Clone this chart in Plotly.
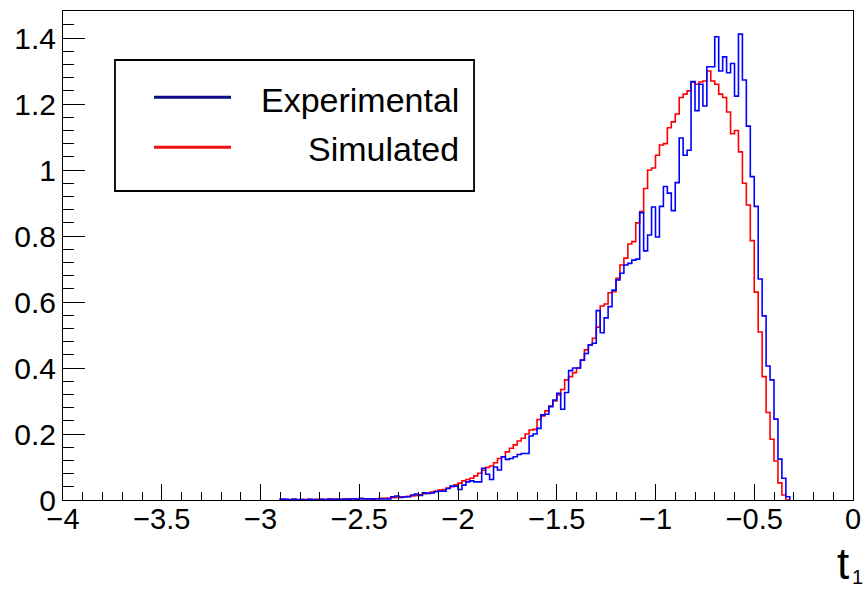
import numpy as np
import plotly.graph_objects as go

# ---- data: normalised histograms of t1, 0.02-wide bins starting at the low edges below ----
bin_width = 0.02
bin_low_edges = np.round(np.arange(-2.90, -0.335, bin_width), 2)  # -2.90 ... -0.34

experimental = [
    0.003, 0.002, 0.000, 0.003, 0.000,
    0.001, 0.000, 0.002, 0.001, 0.000,
    0.002, 0.000, 0.003, 0.002, 0.002,
    0.001, 0.003, 0.002, 0.004, 0.002,
    0.005, 0.003, 0.004, 0.002, 0.004,
    0.003, 0.004, 0.003, 0.010, 0.012,
    0.008, 0.009, 0.010, 0.015, 0.018,
    0.014, 0.022, 0.020, 0.021, 0.025,
    0.027, 0.027, 0.035, 0.042, 0.042,
    0.032, 0.045, 0.055, 0.058, 0.055,
    0.055, 0.096, 0.078, 0.062, 0.100,
    0.091, 0.131, 0.123, 0.126, 0.131,
    0.138, 0.141, 0.141, 0.194, 0.200,
    0.217, 0.258, 0.260, 0.283, 0.303,
    0.323, 0.275, 0.326, 0.392, 0.400,
    0.400, 0.424, 0.444, 0.470, 0.475,
    0.574, 0.507, 0.552, 0.586, 0.636,
    0.667, 0.687, 0.712, 0.717, 0.727,
    0.730, 0.871, 0.755, 0.803, 0.888,
    0.797, 0.890, 0.950, 0.930, 0.877,
    0.962, 1.097, 1.045, 1.060, 1.268,
    1.180, 1.260, 1.194, 1.313, 1.313,
    1.404, 1.300, 1.343, 1.295, 1.323,
    1.224, 1.412, 1.273, 1.133, 0.980,
    0.890, 0.670, 0.558, 0.406, 0.364,
    0.245, 0.124, 0.066, 0.010,
]

simulated = [
    0.001, 0.001, 0.001, 0.001, 0.001,
    0.001, 0.001, 0.002, 0.001, 0.002,
    0.002, 0.002, 0.002, 0.002, 0.003,
    0.002, 0.003, 0.003, 0.003, 0.003,
    0.003, 0.004, 0.003, 0.004, 0.004,
    0.005, 0.005, 0.006, 0.007, 0.008,
    0.009, 0.010, 0.011, 0.012, 0.014,
    0.016, 0.019, 0.021, 0.024, 0.027,
    0.030, 0.032, 0.036, 0.040, 0.046,
    0.051, 0.058, 0.062, 0.066, 0.073,
    0.081, 0.090, 0.099, 0.103, 0.113,
    0.126, 0.131, 0.146, 0.157, 0.167,
    0.179, 0.187, 0.200, 0.212, 0.214,
    0.244, 0.255, 0.270, 0.285, 0.300,
    0.318, 0.335, 0.364, 0.374, 0.386,
    0.400, 0.424, 0.455, 0.470, 0.490,
    0.524, 0.588, 0.594, 0.628, 0.631,
    0.672, 0.712, 0.733, 0.776, 0.783,
    0.840, 0.874, 0.944, 1.000, 1.006,
    1.045, 1.076, 1.080, 1.128, 1.146,
    1.170, 1.220, 1.230, 1.240, 1.267,
    1.260, 1.267, 1.270, 1.300, 1.270,
    1.260, 1.230, 1.220, 1.176, 1.110,
    1.120, 1.055, 0.960, 0.894, 0.786,
    0.630, 0.509, 0.374, 0.265, 0.184,
    0.118, 0.052, 0.015, 0.000,
]

series_names = ["Experimental", "Simulated"]
x_tick_values = [-4, -3.5, -3, -2.5, -2, -1.5, -1, -0.5, 0]
y_tick_values = [0, 0.2, 0.4, 0.6, 0.8, 1.0, 1.2, 1.4]

FONT = "Liberation Sans, Arial, Helvetica, sans-serif"
HIST_BLUE = "#0000ff"
HIST_RED = "#ff0000"
LEG_BLUE = "#0b0b88"
LEG_RED = "#f01010"


def step_outline(low_edges, values, width):
    xs = [low_edges[0]] + list(low_edges) + [low_edges[-1] + width]
    ys = [0.0] + list(values) + [0.0]
    return xs, ys


fig = go.Figure()
for name, vals, col in [("Simulated", simulated, HIST_RED), ("Experimental", experimental, HIST_BLUE)]:
    xs, ys = step_outline(bin_low_edges, vals, bin_width)
    fig.add_trace(go.Scatter(x=xs, y=ys, mode="lines", name=name,
                             line=dict(color=col, width=1.6, shape="hv"),
                             showlegend=False, hoverinfo="skip"))

fig.update_layout(
    width=865, height=590, autosize=False,
    margin=dict(l=63, r=12, t=11, b=90, pad=0, autoexpand=False),
    paper_bgcolor="white", plot_bgcolor="white",
    font=dict(family=FONT, color="black"),
    xaxis=dict(range=[-4, 0], tickvals=x_tick_values, ticks="inside", ticklen=16,
               tickwidth=1, tickcolor="black", showline=True, linecolor="black",
               linewidth=1, mirror=True, showgrid=False, zeroline=False,
               automargin=False, ticklabelstandoff=-7,
               tickfont=dict(size=29, family=FONT),
               minor=dict(dtick=0.1, tick0=-4, ticks="inside", ticklen=8,
                          tickwidth=1, tickcolor="black", showgrid=False)),
    yaxis=dict(range=[0, 1.482], tickvals=y_tick_values, ticks="inside", ticklen=22,
               tickwidth=1, tickcolor="black", showline=True, linecolor="black",
               linewidth=1, mirror=True, showgrid=False, zeroline=False,
               automargin=False,
               tickfont=dict(size=30, family=FONT),
               minor=dict(dtick=0.04, tick0=0, ticks="inside", ticklen=11,
                          tickwidth=1, tickcolor="black", showgrid=False)),
)

# axis title t_1 at the right end of the x axis
fig.add_annotation(xref="paper", yref="paper", x=0.9975, y=-0.1302,
                   xanchor="right", yanchor="middle", showarrow=False,
                   text="t", font=dict(size=44, family=FONT, color="black"))
fig.add_annotation(xref="paper", yref="paper", x=0.9962, y=-0.1575,
                   xanchor="left", yanchor="middle", showarrow=False,
                   text="1", font=dict(size=20, family=FONT, color="black"))

# legend box (drawn like the ROOT TLegend)
fig.add_shape(type="rect", xref="paper", yref="paper", x0=0.0658, x1=0.5203,
              y0=0.6319, y1=0.8998, line=dict(color="black", width=1.8),
              fillcolor="white", layer="above")
leg_rows = [(series_names[0], LEG_BLUE, 0.8235, 0.819), (series_names[1], LEG_RED, 0.7213, 0.717)]
for label, col, ly, ty in leg_rows:
    fig.add_shape(type="line", xref="paper", yref="paper", x0=0.1152, x1=0.2127,
                  y0=ly, y1=ly, line=dict(color=col, width=3), layer="above")
    fig.add_annotation(xref="paper", yref="paper", x=0.5038, y=ty, xanchor="right",
                       yanchor="middle", showarrow=False, text=label,
                       font=dict(size=34, family=FONT, color="black"))

fig.write_html("out.html")
